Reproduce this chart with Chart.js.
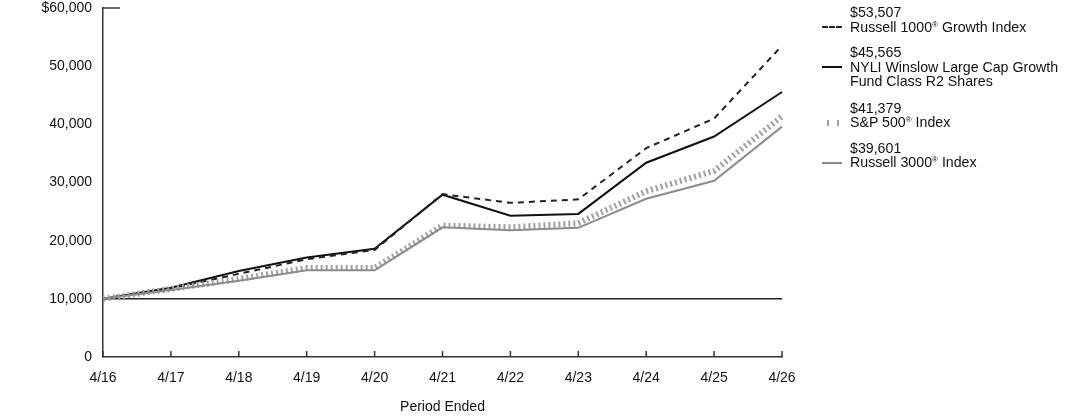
<!DOCTYPE html>
<html>
<head>
<meta charset="utf-8">
<script src="https://cdn.jsdelivr.net/npm/chart.js@4.4.1/dist/chart.umd.min.js"></script>
<style>
    html, body { margin: 0; padding: 0; background: #fff; }
    #wrap { position: relative; width: 1092px; height: 417px; }
    #legend { position: absolute; left: 822px; top: 5px; font-family: "Liberation Sans", Arial, sans-serif; font-size: 14.2px; color: #111; line-height: 14.5px; }
    .item { position: relative; padding-left: 28px; margin-bottom: 11px; }
    .item sup { font-size: 8px; line-height: 0; vertical-align: 5px; }
    .sw { position: absolute; left: 0; width: 20px; }
</style>
</head>
<body>
<div id="wrap">
    <canvas id="growthChart" width="1092" height="417"></canvas>
    <div id="legend">
        <div class="item">$53,507<br>Russell 1000<sup>®</sup> Growth Index
            <div class="sw" style="top:21px;border-top:2px dashed #222;"></div></div>
        <div class="item" style="margin-bottom:12px;">$45,565<br>NYLI Winslow Large Cap Growth<br>Fund Class R2 Shares
            <div class="sw" style="top:21px;border-top:2px solid #111;"></div></div>
        <div class="item">$41,379<br>S&amp;P 500<sup>®</sup> Index
            <div class="sw" style="top:19px;height:6px;background:repeating-linear-gradient(90deg,transparent 0 5px,#a0a0a0 5px 7px,transparent 7px 10px);"></div></div>
        <div class="item">$39,601<br>Russell 3000<sup>®</sup> Index
            <div class="sw" style="top:21px;border-top:2px solid #8c8c8c;"></div></div>
    </div>
</div>
<script>
// 기간 (x축)
const periods = ['4/16', '4/17', '4/18', '4/19', '4/20', '4/21', '4/22', '4/23', '4/24', '4/25', '4/26'];

// 시리즈 값
const russell1000Growth = [10000, 11800, 14300, 16800, 18400, 28000, 26500, 27100, 35900, 41000, 53507];
const fundR2 = [10000, 11900, 14800, 17100, 18600, 27900, 24300, 24600, 33400, 37900, 45565];
const sp500 = [10000, 11700, 13400, 15300, 15300, 22600, 22300, 23000, 28500, 32000, 41379];
const russell3000 = [10000, 11500, 13100, 14900, 14900, 22300, 21800, 22200, 27200, 30300, 39601];

// y축 눈금
const yTicks = [0, 10000, 20000, 30000, 40000, 50000, 60000];

const FONT = '"Liberation Sans", Arial, sans-serif';

// 축 장식: 위쪽 짧은 눈금, x축 안쪽 눈금
const axisMarks = {
    id: 'axisMarks',
    afterDraw(chart) {
        const { ctx, scales: { x, y } } = chart;
        ctx.save();
        ctx.strokeStyle = '#333';
        ctx.lineWidth = 1.5;
        const top = y.getPixelForValue(60000);
        ctx.beginPath();
        ctx.moveTo(x.left, top);
        ctx.lineTo(x.left + 17, top);
        ctx.stroke();
        const base = y.getPixelForValue(0);
        x.ticks.forEach((t, i) => {
            const px = x.getPixelForTick(i);
            ctx.beginPath();
            ctx.moveTo(px, base);
            ctx.lineTo(px, base - 6);
            ctx.stroke();
        });
        ctx.restore();
    }
};

new Chart(document.getElementById('growthChart').getContext('2d'), {
    type: 'line',
    data: {
        labels: periods,
        datasets: [
            {
                label: 'Russell 3000® Index',
                data: russell3000,
                borderColor: '#8c8c8c',
                borderWidth: 2
            },
            {
                label: 'S&P 500® Index',
                data: sp500,
                borderColor: '#a0a0a0',
                borderWidth: 6,
                borderDash: [2, 3]
            },
            {
                label: 'Russell 1000® Growth Index',
                data: russell1000Growth,
                borderColor: '#222',
                borderWidth: 2,
                borderDash: [6, 5]
            },
            {
                label: 'NYLI Winslow Large Cap Growth Fund Class R2 Shares',
                data: fundR2,
                borderColor: '#111',
                borderWidth: 2
            }
        ]
    },
    options: {
        responsive: false,
        animation: false,
        layout: { padding: { top: 0, right: 310, left: 0, bottom: 1 } },
        elements: {
            point: { radius: 0 },
            line: { tension: 0, fill: false }
        },
        plugins: {
            legend: { display: false },
            tooltip: { enabled: false }
        },
        scales: {
            x: {
                offset: false,
                grid: { display: false, drawTicks: false },
                border: { display: true, color: '#333', width: 1.5 },
                ticks: { color: '#111', font: { family: FONT, size: 14 }, padding: 13, maxRotation: 0 },
                title: { display: true, text: 'Period Ended', color: '#111', font: { family: FONT, size: 14 }, padding: { top: 15, bottom: 0 } },
                afterFit: (scale) => { scale.height = 59; }
            },
            y: {
                min: 0,
                max: 60000,
                afterBuildTicks: (scale) => { scale.ticks = yTicks.map(v => ({ value: v })); },
                grid: {
                    drawTicks: false,
                    color: (c) => c.tick && c.tick.value === 10000 ? '#222' : 'rgba(0,0,0,0)',
                    lineWidth: 1.5
                },
                border: { display: true, color: '#333', width: 1.5 },
                ticks: {
                    color: '#111',
                    font: { family: FONT, size: 14 },
                    padding: 11,
                    callback: (v) => (v === 60000 ? '$' : '') + v.toLocaleString('en-US')
                },
                afterFit: (scale) => { scale.width = 103; scale.paddingTop = 8; scale.paddingBottom = 0; }
            }
        }
    },
    plugins: [axisMarks]
});
</script>
</body>
</html>
